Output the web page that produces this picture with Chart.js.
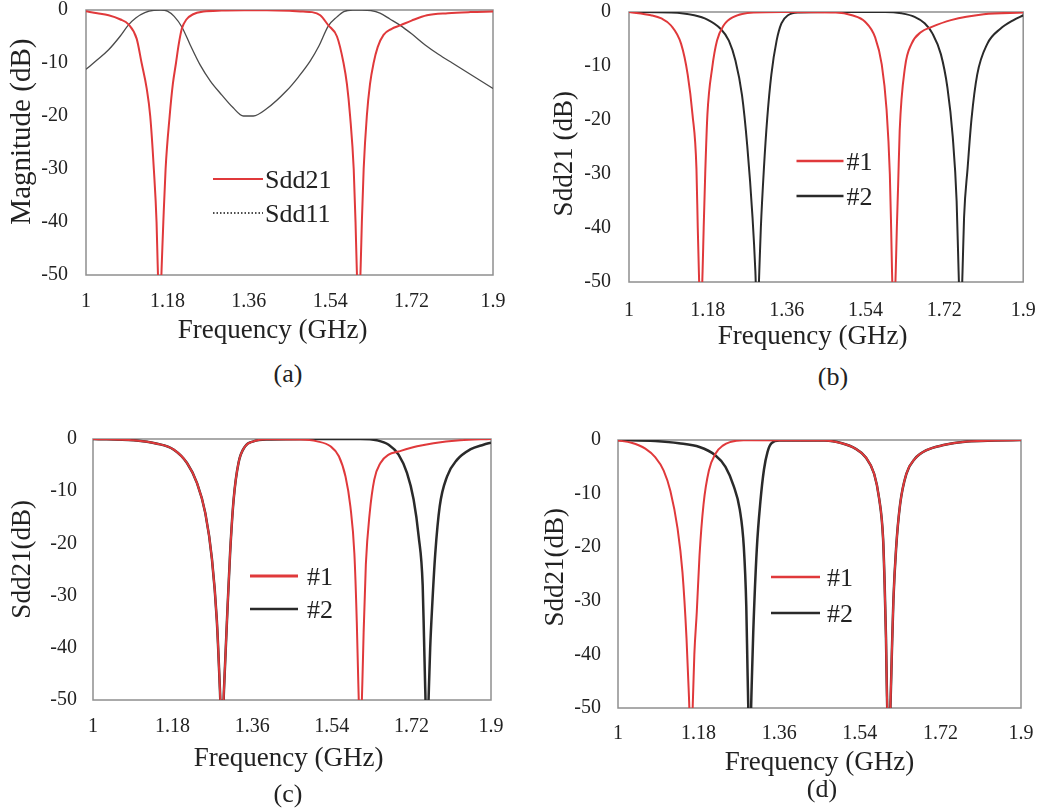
<!DOCTYPE html>
<html>
<head>
<meta charset="utf-8">
<script src="https://cdn.jsdelivr.net/npm/chart.js@4.4.1/dist/chart.umd.min.js"></script>
<style>
  html, body { margin: 0; padding: 0; background: #fff; }
  body { width: 1052px; height: 811px; position: relative; overflow: hidden; }
  canvas { position: absolute; }
  .cap { position: absolute; font: 26px "Liberation Serif", serif; color: #222;
         transform: translate(-50%, -50%); white-space: nowrap; }
</style>
</head>
<body>
<canvas id="pa" width="520" height="371" style="left:0;top:-20px"></canvas>
<canvas id="pb" width="532" height="380" style="left:520px;top:-20px"></canvas>
<canvas id="pc" width="520" height="380" style="left:0;top:400px"></canvas>
<canvas id="pd" width="532" height="380" style="left:520px;top:400px"></canvas>
<div class="cap" style="left:288px;top:374px">(a)</div>
<div class="cap" style="left:833px;top:377px">(b)</div>
<div class="cap" style="left:288px;top:794px">(c)</div>
<div class="cap" style="left:822px;top:789px">(d)</div>
<script>
"use strict";

// axis ticks (shared by all four panels)
const xTicks = [1, 1.18, 1.36, 1.54, 1.72, 1.9];
const yTicks = [0, -10, -20, -30, -40, -50];

const legendA = ["Sdd21", "Sdd11"];
const legendNo = ["#1", "#2"];

// (a) Sdd21 / Sdd11, frequency in GHz, magnitude in dB
const aSdd21Freq = [1.000, 1.025, 1.050, 1.075, 1.094, 1.112, 1.123, 1.134, 1.142, 1.150, 1.156, 1.1585, 1.163, 1.1675, 1.171, 1.176, 1.185, 1.192, 1.199, 1.205, 1.212, 1.222, 1.237, 1.260, 1.300, 1.350, 1.400, 1.450, 1.480, 1.500, 1.518, 1.536, 1.555, 1.5695, 1.577, 1.584, 1.592, 1.596, 1.5985, 1.603, 1.6075, 1.610, 1.614, 1.621, 1.628, 1.636, 1.645, 1.658, 1.675, 1.695, 1.720, 1.754, 1.800, 1.850, 1.900];
const aSdd21Db = [-0.25, -0.6, -1.0, -1.75, -2.7, -5.4, -10, -14.7, -20, -30, -40, -48, -58, -48, -40, -30, -20, -14, -10, -6.5, -3.5, -1.8, -0.8, -0.3, -0.1, -0.05, -0.05, -0.15, -0.3, -0.4, -1.0, -2.9, -5.0, -10, -14, -20, -30, -40, -48, -58, -48, -40, -30, -20, -14, -10, -7, -4.7, -3.6, -2.9, -2.0, -1.0, -0.6, -0.4, -0.3];
const aSdd11Freq = [1.000, 1.025, 1.050, 1.075, 1.094, 1.110, 1.130, 1.150, 1.165, 1.180, 1.195, 1.212, 1.230, 1.252, 1.275, 1.300, 1.325, 1.348, 1.370, 1.400, 1.444, 1.470, 1.496, 1.515, 1.536, 1.555, 1.570, 1.590, 1.610, 1.630, 1.650, 1.672, 1.695, 1.720, 1.750, 1.780, 1.810, 1.840, 1.870, 1.900];
const aSdd11Db = [-11.2, -9.4, -7.5, -5.0, -2.8, -1.5, -0.5, -0.05, 0, -0.2, -1.2, -3.2, -6.5, -10.3, -13.4, -16.0, -18.4, -20.0, -20.0, -18.6, -15.2, -12.6, -9.6, -6.8, -3.0, -1.3, -0.3, 0, 0, -0.1, -0.6, -1.7, -2.9, -4.5, -6.6, -8.4, -10.0, -11.6, -13.2, -14.8];

// (b) #1 and #2
const bNo1Freq = [1.000, 1.050, 1.074, 1.096, 1.119, 1.134, 1.145, 1.154, 1.157, 1.1595, 1.1638, 1.168, 1.1705, 1.174, 1.179, 1.190, 1.201, 1.216, 1.239, 1.284, 1.350, 1.472, 1.509, 1.539, 1.562, 1.577, 1.588, 1.5955, 1.5985, 1.6005, 1.6048, 1.609, 1.6115, 1.6145, 1.618, 1.630, 1.645, 1.667, 1.690, 1.735, 1.810, 1.900];
const bNo1Db = [0, -0.6, -1.2, -2.5, -5.9, -11.6, -19, -29, -40, -48, -58, -48, -40, -30, -19, -10.3, -5.3, -2.5, -0.9, -0.1, 0, -0.1, -0.6, -1.8, -4.7, -9.7, -18, -30, -40, -48, -58, -48, -40, -32, -22, -10.3, -5.9, -3.7, -2.8, -1.5, -0.4, -0.1];
const bNo2Freq = [1.000, 1.096, 1.149, 1.179, 1.209, 1.228, 1.243, 1.258, 1.270, 1.282, 1.2885, 1.293, 1.2975, 1.301, 1.308, 1.3155, 1.325, 1.337, 1.348, 1.363, 1.389, 1.450, 1.585, 1.622, 1.652, 1.675, 1.693, 1.712, 1.727, 1.739, 1.748, 1.7525, 1.757, 1.7615, 1.765, 1.773, 1.782, 1.795, 1.818, 1.848, 1.878, 1.900];
const bNo2Db = [0, -0.1, -0.6, -1.4, -3.1, -5.3, -9, -15.4, -24.8, -38, -48, -58, -48, -40, -29, -19.8, -11.6, -5.3, -2.1, -0.6, -0.1, 0, 0, -0.25, -0.9, -2.1, -4, -7.8, -14, -23, -35, -48, -58, -48, -38, -29, -19.8, -11.6, -5.9, -3.1, -1.5, -0.6];

// (c) #1 and #2
const cNo1Freq = [1.000, 1.092, 1.145, 1.182, 1.2126, 1.235, 1.254, 1.269, 1.280, 1.287, 1.2917, 1.2962, 1.303, 1.310, 1.318, 1.329, 1.344, 1.363, 1.393, 1.469, 1.507, 1.537, 1.556, 1.571, 1.582, 1.591, 1.5965, 1.600, 1.6045, 1.609, 1.612, 1.617, 1.6257, 1.636, 1.650, 1.6686, 1.691, 1.733, 1.770, 1.830, 1.900];
const cNo1Db = [0, -0.25, -0.9, -2, -4.6, -8.4, -14.2, -23, -34.7, -48, -58, -48, -34.7, -21.9, -11.6, -4.6, -1.4, -0.45, -0.05, -0.1, -0.45, -1.4, -3.3, -7.2, -12.9, -21.9, -35, -47, -58, -47, -37, -24, -14.2, -7.8, -4.6, -3.0, -2.4, -1.4, -0.8, -0.25, 0];
const cNo2Freq = [1.000, 1.092, 1.145, 1.182, 1.2126, 1.235, 1.254, 1.269, 1.280, 1.287, 1.2917, 1.2962, 1.303, 1.310, 1.318, 1.329, 1.344, 1.363, 1.393, 1.500, 1.6045, 1.642, 1.6686, 1.691, 1.710, 1.725, 1.7365, 1.7455, 1.7485, 1.751, 1.7553, 1.7595, 1.7625, 1.767, 1.774, 1.784, 1.8005, 1.823, 1.853, 1.883, 1.900];
const cNo2Db = [0, -0.25, -0.9, -2, -4.6, -8.4, -14.2, -23, -34.7, -48, -58, -48, -34.7, -21.9, -11.6, -4.6, -1.4, -0.45, -0.1, 0, 0, -0.25, -1.1, -3, -6.5, -11.6, -18.7, -28, -38, -47, -58, -48, -40, -32, -21.9, -12.9, -7.2, -4, -2, -1.1, -0.7];

// (d) #1 and #2
const dNo1Freq = [1.000, 1.030, 1.061, 1.083, 1.102, 1.117, 1.133, 1.144, 1.153, 1.1585, 1.163, 1.1675, 1.1705, 1.176, 1.182, 1.191, 1.203, 1.218, 1.235, 1.250, 1.280, 1.462, 1.500, 1.530, 1.553, 1.572, 1.583, 1.592, 1.5955, 1.5985, 1.6005, 1.6046, 1.609, 1.6115, 1.615, 1.621, 1.630, 1.644, 1.663, 1.689, 1.727, 1.780, 1.841, 1.900];
const dNo1Db = [-0.1, -0.5, -1.6, -3.2, -5.7, -9.5, -16.5, -24.7, -37, -48, -58, -48, -40, -32, -21.6, -12, -5.7, -2.5, -1.0, -0.4, -0.05, -0.1, -0.6, -1.6, -3.2, -6.3, -10.8, -18.4, -27, -37, -47, -58, -48, -40, -30, -20.3, -12, -6.3, -3.5, -1.9, -0.95, -0.3, -0.1, 0];
const dNo2Freq = [1.000, 1.083, 1.136, 1.182, 1.2166, 1.240, 1.258, 1.272, 1.281, 1.2865, 1.2895, 1.294, 1.2985, 1.302, 1.310, 1.318, 1.326, 1.334, 1.343, 1.360, 1.462, 1.500, 1.530, 1.553, 1.572, 1.583, 1.592, 1.5955, 1.5985, 1.6005, 1.6046, 1.609, 1.6115, 1.615, 1.621, 1.630, 1.644, 1.663, 1.689, 1.727, 1.780, 1.841, 1.900];
const dNo2Db = [0, -0.2, -0.6, -1.3, -2.8, -5.0, -8.5, -13, -20, -31, -44, -58, -46, -36, -20.3, -11.5, -5.5, -2.2, -0.6, -0.1, -0.1, -0.6, -1.6, -3.2, -6.3, -10.8, -18.4, -27, -37, -47, -58, -48, -40, -30, -20.3, -12, -6.3, -3.5, -1.9, -0.95, -0.3, -0.1, 0];

const RED = "#e0393b";
const DARK = "#2a2a2a";
const TEXT = "#222";
const FONT = "'Liberation Serif', 'Times New Roman', serif";

// frame around the plot area + the in-plot legend
const framePlugin = {
    id: "frame",
    beforeDatasetsDraw(chart) {
        const a = chart.chartArea, ctx = chart.ctx;
        ctx.save();
        ctx.strokeStyle = "#8f8f8f";
        ctx.lineWidth = 1.5;
        ctx.strokeRect(a.left, a.top, a.right - a.left, a.bottom - a.top);
        ctx.restore();
    },
    afterDraw(chart, args, opts) {
        const lg = opts.legend;
        if (!lg) return;
        const a = chart.chartArea, ctx = chart.ctx;
        ctx.save();
        lg.items.forEach((it, i) => {
            const x = a.left + lg.x, y = a.top + lg.y + i * lg.dy;
            ctx.beginPath();
            ctx.setLineDash(it.dash || []);
            ctx.strokeStyle = it.color;
            ctx.lineWidth = it.width;
            ctx.moveTo(x, y);
            ctx.lineTo(x + lg.len, y);
            ctx.stroke();
            ctx.setLineDash([]);
            ctx.fillStyle = TEXT;
            ctx.font = "26px " + FONT;
            ctx.textBaseline = "middle";
            ctx.textAlign = "left";
            ctx.fillText(it.label, x + lg.len + lg.gap, y + 2);
        });
        ctx.restore();
    }
};

function series(freq, db, color, width) {
    return {
        data: freq.map((f, i) => ({ x: f, y: db[i] })),
        borderColor: color,
        borderWidth: width,
        pointRadius: 0,
        fill: false,
        cubicInterpolationMode: "monotone"
    };
}

// spaces nudge the centred axis titles the way the original sits
function pad(text, before, after) {
    return " ".repeat(before) + text + " ".repeat(after);
}

function makePanel(id, p) {
    const ctx = document.getElementById(id).getContext("2d");
    return new Chart(ctx, {
        type: "line",
        data: { datasets: p.series },   // first dataset is drawn on top
        options: {
            responsive: false,
            animation: false,
            layout: { padding: p.pad },
            plugins: {
                legend: { display: false },
                tooltip: { enabled: false },
                frame: { legend: p.legend }
            },
            scales: {
                x: {
                    type: "linear",
                    min: 1,
                    max: 1.9,
                    afterBuildTicks: s => { s.ticks = xTicks.map(v => ({ value: v })); },
                    afterFit: s => { s.height = p.xh; },
                    grid: { display: false, drawTicks: false },
                    border: { display: false },
                    ticks: {
                        autoSkip: false, maxRotation: 0, padding: p.xtp,
                        color: TEXT, font: { family: FONT, size: 20 },
                        callback: v => String(v)
                    },
                    title: {
                        display: true, text: p.xTitle, color: TEXT,
                        font: { family: FONT, size: 27 },
                        padding: { top: 0, bottom: p.xpb }
                    }
                },
                y: {
                    type: "linear",
                    min: -50,
                    max: 0,
                    afterBuildTicks: s => { s.ticks = yTicks.map(v => ({ value: v })); },
                    afterFit: s => { s.width = p.yw; },
                    grid: { display: false, drawTicks: false },
                    border: { display: false },
                    ticks: {
                        autoSkip: false, padding: p.ytp,
                        color: TEXT, font: { family: FONT, size: 20 },
                        callback: v => String(v)
                    },
                    title: {
                        display: true, text: p.yTitle, color: TEXT,
                        font: { family: FONT, size: p.yTitleSize || 27 },
                        padding: { top: p.ypt, bottom: 0 }
                    }
                }
            }
        },
        plugins: [framePlugin]
    });
}

makePanel("pa", {
    pad: { left: 0, top: 28, right: 27, bottom: 0 },
    yw: 86, xh: 76, xtp: 14.3, ytp: 18, xpb: 3.8, ypt: 4.6, yTitleSize: 29,
    xTitle: pad("Frequency (GHz)", 0, 5),
    yTitle: pad("Magnitude (dB)", 3, 0),
    series: [
        series(aSdd21Freq, aSdd21Db, RED, 2),
        series(aSdd11Freq, aSdd11Db, "#4a4a4a", 1.3)
    ],
    legend: { x: 127, y: 169, len: 50, dy: 34, gap: 2, items: [
        { label: legendA[0], color: RED, width: 2.2 },
        { label: legendA[1], color: "#111", width: 1.5, dash: [1.5, 2] }
    ] }
});

makePanel("pb", {
    pad: { left: 0, top: 32, right: 17, bottom: 0 },
    yw: 109, xh: 78, xtp: 16.3, ytp: 18, xpb: 6.8, ypt: 28.8,
    xTitle: pad("Frequency (GHz)", 0, 4),
    yTitle: pad("Sdd21 (dB)", 0, 2),
    series: [
        series(bNo1Freq, bNo1Db, RED, 2),
        series(bNo2Freq, bNo2Db, DARK, 2)
    ],
    legend: { x: 167.5, y: 149, len: 47, dy: 35, gap: 3, items: [
        { label: legendNo[0], color: RED, width: 2.5 },
        { label: legendNo[1], color: DARK, width: 2.5 }
    ] }
});

makePanel("pc", {
    pad: { left: 0, top: 39, right: 29, bottom: 0 },
    yw: 93, xh: 80, xtp: 14.3, ytp: 16, xpb: 4.8, ypt: 6.8,
    xTitle: pad("Frequency (GHz)", 0, 1),
    yTitle: pad("Sdd21(dB)", 3, 0),
    series: [
        series(cNo1Freq, cNo1Db, RED, 2),
        series(cNo2Freq, cNo2Db, DARK, 2.5)
    ],
    legend: { x: 157, y: 137, len: 48, dy: 33, gap: 9, items: [
        { label: legendNo[0], color: RED, width: 3 },
        { label: legendNo[1], color: DARK, width: 2.5 }
    ] }
});

makePanel("pd", {
    pad: { left: 0, top: 40, right: 31, bottom: 0 },
    yw: 98, xh: 72, xtp: 13.9, ytp: 17, xpb: 0.8, ypt: 19.8,
    xTitle: "Frequency (GHz)",
    yTitle: pad("Sdd21(dB)", 2, 0),
    series: [
        series(dNo1Freq, dNo1Db, RED, 2),
        series(dNo2Freq, dNo2Db, DARK, 2.5)
    ],
    legend: { x: 153, y: 137, len: 49, dy: 36, gap: 7, items: [
        { label: legendNo[0], color: RED, width: 2.5 },
        { label: legendNo[1], color: DARK, width: 2.5 }
    ] }
});
</script>
</body>
</html>
